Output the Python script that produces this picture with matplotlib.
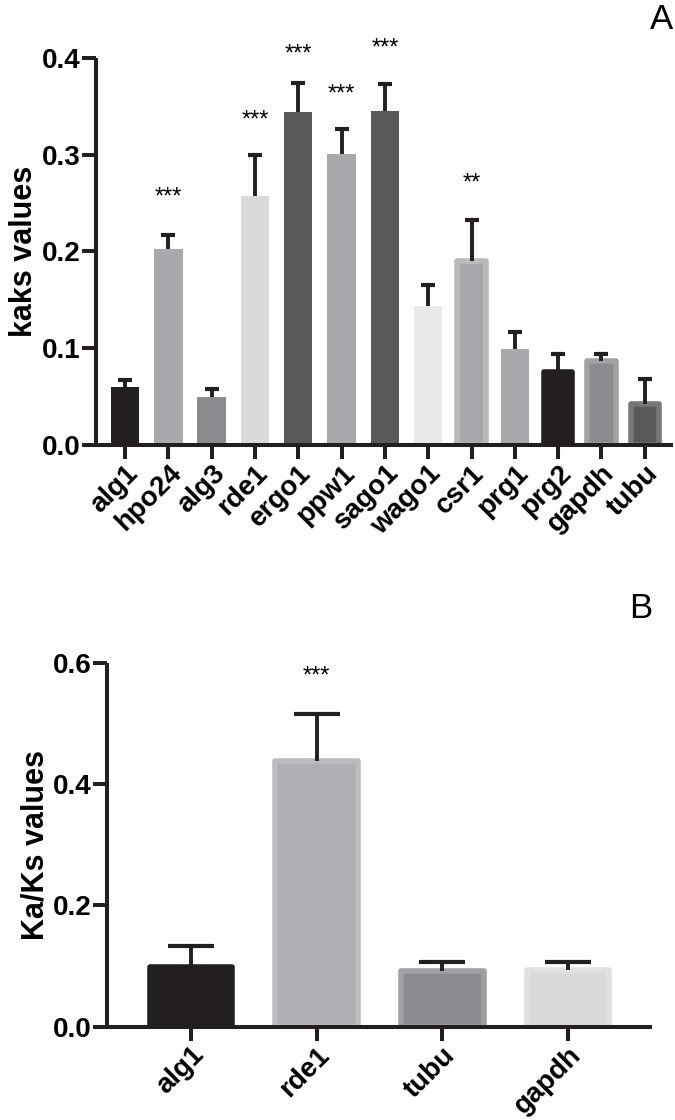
import numpy as np
import matplotlib
matplotlib.use('Agg')
import matplotlib.pyplot as plt

plt.rcParams['font.family'] = ['Liberation Sans', 'DejaVu Sans']

# panel A data
genes_a = ['alg1', 'hpo24', 'alg3', 'rde1', 'ergo1', 'ppw1', 'sago1',
           'wago1', 'csr1', 'prg1', 'prg2', 'gapdh', 'tubu']
kaks_a = [0.060, 0.203, 0.050, 0.257, 0.344, 0.301, 0.345,
          0.144, 0.190, 0.099, 0.075, 0.087, 0.042]
err_a = [0.007, 0.014, 0.008, 0.043, 0.030, 0.026, 0.028,
         0.021, 0.043, 0.018, 0.019, 0.007, 0.026]
stars_a = ['', '***', '', '***', '***', '***', '***', '', '**', '', '', '', '']
star_y_a = [0, 0.256, 0, 0.335, 0.404, 0.362, 0.410, 0, 0.270, 0, 0, 0, 0]
fill_a = ['#231f20', '#a8a9ad', '#8a8b8f', '#d9dadc', '#58595b', '#a8a9ad', '#58595b',
          '#e8e9ea', '#a8a9ad', '#a8a9ad', '#231f20', '#8a8b8e', '#58595b']
edge_a = ['#231f20', '#a8a9ad', '#8a8b8f', '#d9dadc', '#58595b', '#a8a9ad', '#58595b',
          '#e8e9ea', '#b9babd', '#a8a9ad', '#231f20', '#a0a1a4', '#767779']
edge_w_a = [0, 0, 0, 0, 0, 0, 0, 0, 4, 0, 4, 4, 4]

# panel B data
genes_b = ['alg1', 'rde1', 'tubu', 'gapdh']
kaks_b = [0.098, 0.438, 0.091, 0.094]
err_b = [0.035, 0.077, 0.015, 0.012]
stars_b = ['', '***', '', '']
star_y_b = [0, 0.578, 0, 0]
fill_b = ['#231f20', '#aeafb2', '#8b8c8f', '#d9dadb']
edge_b = ['#231f20', '#bcbdc0', '#a0a1a4', '#e0e1e2']

LW = 2.9  # axis line width in points
INK = '#231f20'


def style_axes(ax, ylim, yticks):
    ax.set_ylim(*ylim)
    ax.set_yticks(yticks)
    ax.set_yticklabels([f'{t:.1f}' for t in yticks], fontweight='bold')
    for s in ['top', 'right']:
        ax.spines[s].set_visible(False)
    for s in ['left', 'bottom']:
        ax.spines[s].set_linewidth(LW)
        ax.spines[s].set_color(INK)
        ax.spines[s].set_capstyle('butt')
    ax.tick_params(axis='both', width=LW, length=10, color=INK,
                   labelsize=20, pad=1)


def upper_errs(ax, xs, vals, errs, capw):
    tops = np.array(vals) + np.array(errs)
    ax.vlines(xs, vals, tops, color=INK, linewidth=2.8, zorder=3)
    ax.plot(xs, tops, linestyle='none', marker='_', markersize=capw,
            markeredgewidth=3, color=INK, zorder=3)


fig = plt.figure(figsize=(6.75, 11.2), dpi=100)

# ---- panel A
axA = fig.add_axes([0.142, 0.6027, 0.855, 0.3455])
x = np.arange(len(genes_a))
axA.bar(x, kaks_a, width=0.66, color=fill_a, edgecolor=edge_a,
        linewidth=edge_w_a, joinstyle='round', zorder=2)
upper_errs(axA, x, kaks_a, err_a, 10.5)
for xi, s, sy in zip(x, stars_a, star_y_a):
    if s:
        axA.text(xi, sy, s, ha='center', va='center', fontsize=17)
axA.set_xlim(-0.67, 12.65)
axA.set_xticks(x)
axA.set_xticklabels(genes_a, rotation=45, ha='right', rotation_mode='anchor',
                    fontweight='bold')
style_axes(axA, (0, 0.4), [0.0, 0.1, 0.2, 0.3, 0.4])
axA.set_ylabel('kaks values', fontsize=22, fontweight='bold', labelpad=2)

# ---- panel B
axB = fig.add_axes([0.1585, 0.0833, 0.8075, 0.325])
xb = np.arange(len(genes_b))
axB.bar(xb, kaks_b, width=0.655, color=fill_b, edgecolor=edge_b,
        linewidth=4, joinstyle='round', zorder=2)
upper_errs(axB, xb, kaks_b, err_b, 33)
for xi, s, sy in zip(xb, stars_b, star_y_b):
    if s:
        axB.text(xi, sy, s, ha='center', va='center', fontsize=17)
axB.set_xlim(-0.667, 3.667)
axB.set_xticks(xb)
axB.set_xticklabels(genes_b, rotation=45, ha='right', rotation_mode='anchor',
                    fontweight='bold')
style_axes(axB, (0, 0.6), [0.0, 0.2, 0.4, 0.6])
axB.set_ylabel('Ka/Ks values', fontsize=22, fontweight='bold', labelpad=2)

fig.text(0.997, 0.997, 'A', fontsize=25, ha='right', va='top')
fig.text(0.966, 0.4714, 'B', fontsize=25, ha='right', va='top')

fig.savefig('out.png', dpi=100)
